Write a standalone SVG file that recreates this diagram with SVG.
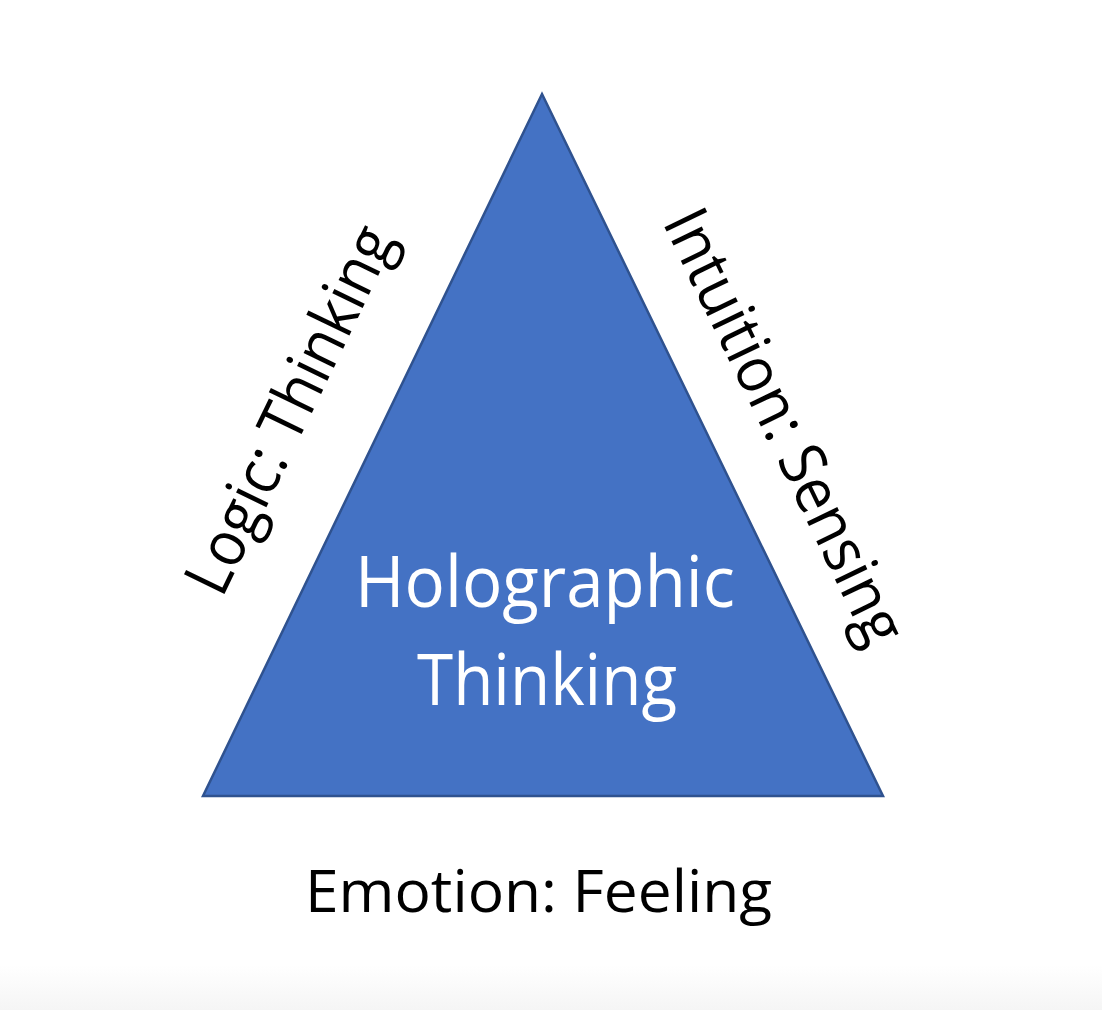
<svg xmlns="http://www.w3.org/2000/svg" width="1102" height="1010" viewBox="0 0 1102 1010">
  <defs>
    <linearGradient id="fade" x1="0" y1="0" x2="0" y2="1">
      <stop offset="0" stop-color="#ffffff"/>
      <stop offset="1" stop-color="#f5f5f5"/>
    </linearGradient>
    <style>
      .lbl { font-family: "Open Sans", "Noto Sans", "Liberation Sans", sans-serif; font-size: 59px; fill: #000000; }
      .side { font-size: 63px; }
      .inner { font-family: "Open Sans", "Noto Sans", "Liberation Sans", sans-serif; font-size: 71px; fill: #ffffff; text-anchor: middle; }
      .tri { fill: #4472C4; stroke: #2F528F; stroke-width: 2.5; stroke-linejoin: miter; }
    </style>
  </defs>
  <rect x="0" y="0" width="1102" height="1010" fill="#ffffff"/>
  <rect x="0" y="965" width="1102" height="45" fill="url(#fade)"/>

  <g id="triangle">
    <polygon class="tri" points="542,94 883,796 203,796"/>
    <text class="inner" x="545" y="607" textLength="380" lengthAdjust="spacingAndGlyphs">Holographic</text>
    <text class="inner" x="547" y="705" textLength="260" lengthAdjust="spacingAndGlyphs">Thinking</text>
  </g>

  <g id="logic">
    <text class="lbl side" transform="translate(222,599) rotate(-64.2)" textLength="400" lengthAdjust="spacingAndGlyphs">Logic: Thinking</text>
  </g>

  <g id="intuition">
    <text class="lbl side" transform="translate(662,222) rotate(64.2)" textLength="475" lengthAdjust="spacingAndGlyphs">Intuition: Sensing</text>
  </g>

  <g id="emotion">
    <text class="lbl" x="305" y="912" textLength="467" lengthAdjust="spacingAndGlyphs">Emotion: Feeling</text>
  </g>

  <g id="connectors"></g>
</svg>
